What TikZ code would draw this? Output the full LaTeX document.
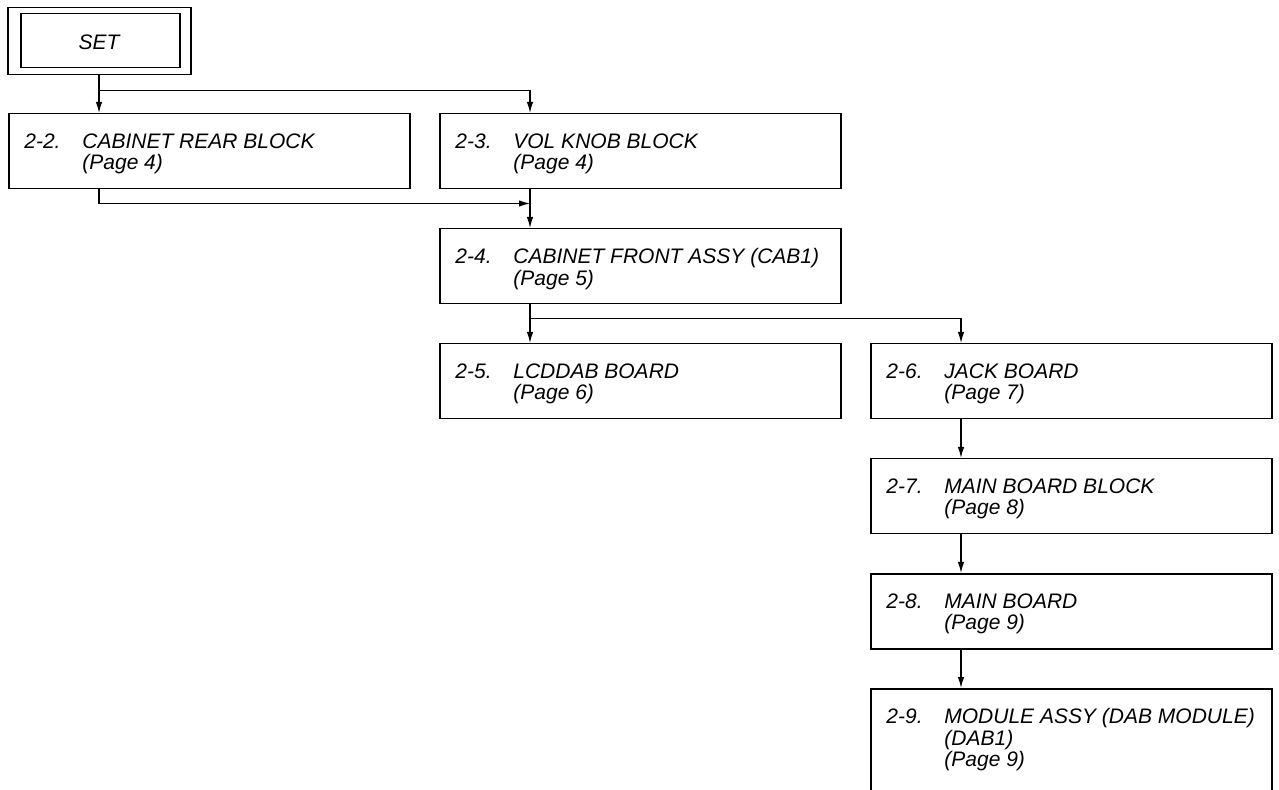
\documentclass[tikz,border=0pt]{standalone}
\usepackage{fontspec}
\setmainfont{Liberation Sans}
\usetikzlibrary{arrows.meta}
\usetikzlibrary{calc, positioning}

\newcommand{\secno}[1]{\makebox[29pt][l]{#1}}
\newcommand{\indentpage}{\hspace*{29pt}}

\tikzset{
  blockbox/.style={draw, line width=0.75pt, anchor=north west, inner sep=0pt,
    minimum width=200.5pt, minimum height=37.5pt},
  blocktext/.style={anchor=north west, align=left, inner sep=0pt,
    font=\itshape\fontsize{10.5}{10.75}\selectfont},
  link/.style={-{Latex[length=5.5pt,width=3.2pt]}, line width=0.6pt}
}

\begin{document}
\begin{tikzpicture}[x=0.5pt, y=-0.5pt]
\useasboundingbox (0,0) rectangle (1279,790);
\clip (0,0) rectangle (1279,790);

% set
\node[draw, line width=0.75pt, anchor=north west, inner sep=0pt,
  minimum width=91.5pt, minimum height=33.5pt] (setframe) at (7,7) {};
\node[draw, line width=0.75pt, anchor=north west, inner sep=0pt,
  minimum width=79.5pt, minimum height=27pt] (setbox) at (20,13) {};
\node[font=\itshape\fontsize{10.5}{10.75}\selectfont, inner sep=0pt] (set) at (99,42.5) {SET};

% blocks
\node[blockbox] (cab22) at (8,113) {};
\node[blockbox] (vol23) at (439,113) {};
\node[blockbox] (cab24) at (439,228) {};
\node[blockbox] (lcd25) at (439,343) {};
\node[blockbox] (jack26) at (870,343) {};
\node[blockbox] (main27) at (870,458) {};
\node[blockbox] (main28) at (870,573) {};
\node[blockbox, minimum height=70pt] (mod29) at (870,688) {};

% texts
\node[blocktext] (t22) at ($(cab22.north west)+(16,20)$) {\secno{2-2.}CABINET REAR BLOCK\\\indentpage(Page 4)};
\node[blocktext] (t23) at ($(vol23.north west)+(16,20)$) {\secno{2-3.}VOL KNOB BLOCK\\\indentpage(Page 4)};
\node[blocktext] (t24) at ($(cab24.north west)+(16,20)$) {\secno{2-4.}CABINET FRONT ASSY (CAB1)\\\indentpage(Page 5)};
\node[blocktext] (t25) at ($(lcd25.north west)+(16,20)$) {\secno{2-5.}LCDDAB BOARD\\\indentpage(Page 6)};
\node[blocktext] (t26) at ($(jack26.north west)+(16,20)$) {\secno{2-6.}JACK BOARD\\\indentpage(Page 7)};
\node[blocktext] (t27) at ($(main27.north west)+(16,20)$) {\secno{2-7.}MAIN BOARD BLOCK\\\indentpage(Page 8)};
\node[blocktext] (t28) at ($(main28.north west)+(16,20)$) {\secno{2-8.}MAIN BOARD\\\indentpage(Page 9)};
\node[blocktext] (t29) at ($(mod29.north west)+(16,20)$) {\secno{2-9.}MODULE ASSY (DAB MODULE)\\\indentpage(DAB1)\\\indentpage(Page 9)};

% entry points
\coordinate (in22) at ($(cab22.north west)+(91,0)$);
\coordinate (in23) at ($(vol23.north west)+(91,0)$);
\coordinate (in24) at ($(cab24.north west)+(91,0)$);
\coordinate (in25) at ($(lcd25.north west)+(91,0)$);
\coordinate (in26) at ($(jack26.north west)+(91,0)$);
\coordinate (in27) at ($(main27.north west)+(91,0)$);
\coordinate (in28) at ($(main28.north west)+(91,0)$);
\coordinate (in29) at ($(mod29.north west)+(91,0)$);
\coordinate (out22) at ($(cab22.south west)+(91,0)$);
\coordinate (out23) at ($(vol23.south west)+(91,0)$);
\coordinate (out24) at ($(cab24.south west)+(91,0)$);
\coordinate (out26) at ($(jack26.south west)+(91,0)$);
\coordinate (out27) at ($(main27.south west)+(91,0)$);
\coordinate (out28) at ($(main28.south west)+(91,0)$);

% connectors
\draw[link] (setframe.south -| in22) -- (in22);
\draw[link] ($(setframe.south -| in22)+(0,15)$) -| (in23);
\draw[link] (out22) -- ++(0,14) -- ($(out23)+(0,14)$);
\draw[link] (out23) -- (in24);
\draw[link] (out24) -- (in25);
\draw[link] ($(out24)+(0,14)$) -| (in26);
\draw[link] (out26) -- (in27);
\draw[link] (out27) -- (in28);
\draw[link] (out28) -- (in29);

\end{tikzpicture}
\end{document}
